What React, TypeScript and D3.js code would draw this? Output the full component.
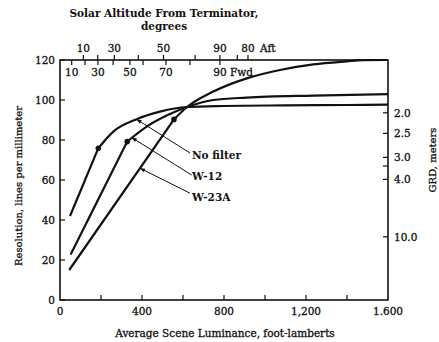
import React from "react";
import * as d3 from "d3";

// ---- Data (luminance in foot-lamberts, resolution in lines/mm) ----
const noFilterLum = [49, 187, 260, 374, 488, 620, 800, 1100, 1400, 1600];
const noFilterRes = [42, 75.9, 84.2, 90.4, 94.2, 96.5, 97.0, 97.3, 97.5, 97.7];
const noFilterDot = 1;

const w12Lum = [52, 328, 423, 520, 620, 748, 911, 1236, 1600];
const w12Res = [22.8, 79.2, 86.7, 92.2, 96.5, 100.0, 101.2, 102.2, 102.9];
const w12Dot = 1;

const w23Lum = [45, 556, 620, 748, 911, 1073, 1236, 1398, 1480, 1600];
const w23Res = [15, 90.3, 96.5, 104.2, 110.8, 115.0, 117.8, 119.3, 119.9, 120];
const w23Dot = 1;

const xTicks = [0, 400, 800, 1200, 1600];
const xTickLabels = ["0", "400", "800", "1,200", "1.600"];
const xMinorTicks = [200, 600, 1000, 1400];
const yTicks = [0, 20, 40, 60, 80, 100, 120];

// GRD (right axis): label and the resolution it sits at
const grdLabels = ["2.0", "2.5", "3.0", "", "4.0", "10.0"];
const grdRes = [93.6, 83.3, 71.3, 67.0, 60.3, 31.6];

// Solar altitude (top axis), positions as luminance
const aftLum = [114, 184, 265, 382, 505, 659, 780, 865, 917];
const aftLabels = ["10", "", "30", "", "50", "", "90", "", "80"];
const fwdLum = [57, 122, 185, 259, 341, 405, 517, 634, 780];
const fwdLabels = ["10", "", "30", "", "50", "", "70", "", "90"];

// Annotations
const annoLabels = ["No filter", "W-12", "W-23A"];
const annoTip = [[374, 90.3], [350, 81.2], [390, 65.9]];
const annoStart = [[634, 73.5], [642, 62.5], [634, 53.4]];
const annoText = [[644, 70.5], [644, 60], [644, 49.3]];

const FONT = "'DejaVu Serif', 'Liberation Serif', serif";

export default function App() {
  const W = 439, H = 342;
  const x = d3.scaleLinear().domain([0, 1600]).range([60, 388]);
  const y = d3.scaleLinear().domain([0, 120]).range([300, 60]);

  const lineLin = d3.line<[number, number]>().x(d => x(d[0])).y(d => y(d[1]));
  const lineCurve = d3
    .line<[number, number]>()
    .x(d => x(d[0]))
    .y(d => y(d[1]))
    .curve(d3.curveMonotoneX);

  const series = [
    { lum: noFilterLum, res: noFilterRes, dot: noFilterDot },
    { lum: w12Lum, res: w12Res, dot: w12Dot },
    { lum: w23Lum, res: w23Res, dot: w23Dot },
  ];

  const txt = {
    fontFamily: FONT,
    fill: "#111",
    stroke: "#111",
    strokeWidth: 0.3,
    fontSize: 10.5,
  } as const;

  return (
    <svg
      width={W}
      height={H}
      style={{ position: "absolute", left: 0, top: 0, background: "#fff" }}
    >
      <defs>
        <marker id="arr" viewBox="0 0 10 10" refX="10" refY="5" markerWidth="7" markerHeight="5" orient="auto" markerUnits="userSpaceOnUse">
          <path d="M0,1 L10,5 L0,9 z" fill="#111" />
        </marker>
        <clipPath id="plot">
          <rect x={60} y={59} width={328} height={241} />
        </clipPath>
      </defs>
      <rect width={W} height={H} fill="#fff" />

      {/* titles */}
      <text x={164} y={17} textAnchor="middle" {...txt} fontWeight="bold" strokeWidth={0}>
        Solar Altitude From Terminator,
      </text>
      <text x={164} y={30} textAnchor="middle" {...txt} fontWeight="bold" strokeWidth={0}>
        degrees
      </text>

      {/* top axis - Aft */}
      {aftLum.map((v, i) => (
        <g key={"a" + i}>
          <line x1={x(v)} x2={x(v)} y1={60} y2={55} stroke="#111" strokeWidth={1.2} />
          {aftLabels[i] && (
            <text x={x(v)} y={52} textAnchor="middle" {...txt}>
              {aftLabels[i]}
            </text>
          )}
        </g>
      ))}
      <text x={x(aftLum[aftLum.length - 1]) + 12} y={52} {...txt}>Aft</text>

      {/* top axis - Fwd */}
      {fwdLum.map((v, i) => (
        <g key={"f" + i}>
          <line x1={x(v)} x2={x(v)} y1={60} y2={65} stroke="#111" strokeWidth={1.2} />
          {fwdLabels[i] && (
            <text x={x(v)} y={76} textAnchor="middle" {...txt}>
              {fwdLabels[i]}
            </text>
          )}
        </g>
      ))}
      <text x={x(fwdLum[fwdLum.length - 1]) + 10} y={76} {...txt}>Fwd</text>

      {/* frame */}
      <rect x={60} y={60} width={328} height={240} fill="none" stroke="#111" strokeWidth={1.6} />

      {/* y axis */}
      {yTicks.map(v => (
        <g key={"y" + v}>
          <line x1={60} x2={65} y1={y(v)} y2={y(v)} stroke="#111" strokeWidth={1.2} />
          <text x={55} y={y(v) + 4} textAnchor="end" {...txt}>{v}</text>
        </g>
      ))}
      <text
        transform={`translate(22, ${y(57)}) rotate(-90)`}
        textAnchor="middle"
        {...txt}
        fontSize={10}
      >
        Resolution, lines per millimeter
      </text>

      {/* x axis */}
      {xTicks.map((v, i) => (
        <g key={"x" + v}>
          {v > 0 && v < 1600 && (
            <line x1={x(v)} x2={x(v)} y1={300} y2={295} stroke="#111" strokeWidth={1.2} />
          )}
          <text x={x(v)} y={315} textAnchor="middle" {...txt}>{xTickLabels[i]}</text>
        </g>
      ))}
      {xMinorTicks.map(v => (
        <line key={"xm" + v} x1={x(v)} x2={x(v)} y1={300} y2={295} stroke="#111" strokeWidth={1.2} />
      ))}
      <text x={225} y={337} textAnchor="middle" {...txt} fontSize={10.5}>
        Average Scene Luminance, foot-lamberts
      </text>

      {/* right axis GRD */}
      {grdRes.map((v, i) => (
        <g key={"g" + i}>
          <line x1={383} x2={388} y1={y(v)} y2={y(v)} stroke="#111" strokeWidth={1.2} />
          {grdLabels[i] && (
            <text x={394} y={y(v) + 4} {...txt}>{grdLabels[i]}</text>
          )}
        </g>
      ))}
      <text
        transform={`translate(436, ${y(70)}) rotate(-90)`}
        textAnchor="middle"
        {...txt}
        fontSize={10}
      >
        GRD, meters
      </text>

      {/* curves */}
      <g clipPath="url(#plot)">
        {series.map((s, si) => {
          const pts: [number, number][] = s.lum.map((l, i) => [l, s.res[i]]);
          const straight = pts.slice(0, s.dot + 1);
          const curved = pts.slice(s.dot);
          return (
            <g key={"s" + si}>
              <path d={lineLin(straight) || ""} fill="none" stroke="#111" strokeWidth={2.2} />
              <path d={lineCurve(curved) || ""} fill="none" stroke="#111" strokeWidth={2.2} />
            </g>
          );
        })}
      </g>
      {series.map((s, si) => (
        <circle key={"d" + si} cx={x(s.lum[s.dot])} cy={y(s.res[s.dot])} r={2.8} fill="#111" />
      ))}

      {/* annotations */}
      {annoLabels.map((lab, i) => (
        <g key={"an" + i}>
          <line
            x1={x(annoStart[i][0])}
            y1={y(annoStart[i][1])}
            x2={x(annoTip[i][0])}
            y2={y(annoTip[i][1])}
            stroke="#111"
            strokeWidth={1}
            markerEnd="url(#arr)"
          />
          <text x={x(annoText[i][0])} y={y(annoText[i][1])} {...txt} fontWeight="bold" strokeWidth={0}>
            {lab}
          </text>
        </g>
      ))}
    </svg>
  );
}
